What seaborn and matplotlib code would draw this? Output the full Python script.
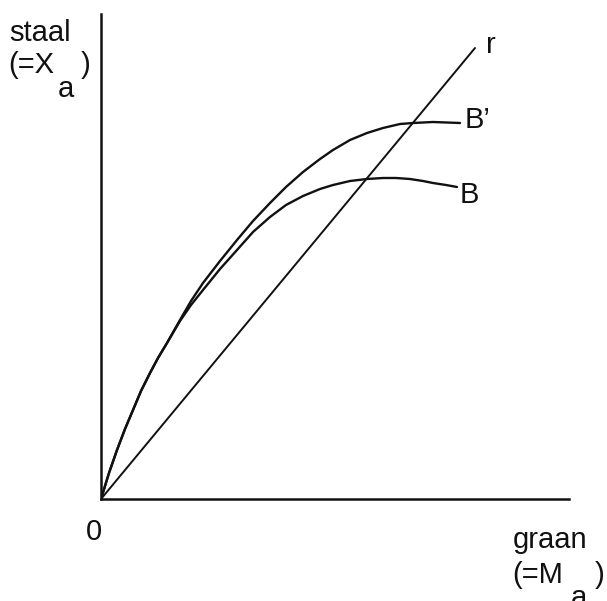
import numpy as np
import pandas as pd
import matplotlib.pyplot as plt
import seaborn as sns

# Values (arbitrary units, origin at 0)
r_x = [0, 374]
r_y = [0, 451]

bprime_x = [0, 8, 16, 24, 32, 40, 49, 57, 66, 79, 90, 102, 119, 136, 152, 169, 185,
            202, 219, 232, 249, 266, 282, 299, 312, 332, 359]
bprime_y = [0, 26, 49, 70, 89, 108, 126, 141, 156, 179, 198, 216, 238, 259, 278, 296, 312,
            327, 340, 349, 359, 366, 371, 375, 376, 377, 376]

b_x = [0, 8, 16, 24, 32, 40, 49, 57, 66, 79, 90, 102, 119, 136, 152, 169, 185,
       202, 219, 232, 249, 266, 282, 295, 309, 322, 332, 345, 356]
b_y = [0, 26, 49, 70, 89, 108, 126, 141, 156, 178, 194, 209, 230, 249, 267, 282, 294,
       303, 310, 314, 318, 320, 321, 321, 320, 318, 316, 314, 312]

curves = pd.concat([
    pd.DataFrame({'graan': r_x, 'staal': r_y, 'lijn': 'r'}),
    pd.DataFrame({'graan': bprime_x, 'staal': bprime_y, 'lijn': "B'"}),
    pd.DataFrame({'graan': b_x, 'staal': b_y, 'lijn': 'B'}),
])

sns.set_style('white')
plt.rcParams['font.family'] = ['Liberation Sans', 'DejaVu Sans']

W, H = 607, 601
fig = plt.figure(figsize=(W / 100, H / 100), dpi=100)
ax = fig.add_axes([101 / W, 102 / H, 468 / W, 485 / H])

sns.lineplot(data=curves, x='graan', y='staal', hue='lijn', units='lijn',
             estimator=None, sort=False, legend=False,
             palette={'r': '#111111', "B'": '#111111', 'B': '#111111'},
             ax=ax)
for line in ax.lines:
    line.set_linewidth(1.7)
    line.set_solid_capstyle('round')
    line.set_solid_joinstyle('round')
ax.lines[0].set_linewidth(1.4)

ax.set_xlim(0, 468)
ax.set_ylim(0, 485)
ax.set_xticks([])
ax.set_yticks([])
ax.set_xlabel('')
ax.set_ylabel('')
for side in ['top', 'right']:
    ax.spines[side].set_visible(False)
for side in ['left', 'bottom']:
    ax.spines[side].set_linewidth(1.8)
    ax.spines[side].set_color('#111111')


def px(x, y):
    return x / W, 1 - y / H


fs = 21
kw = dict(fontsize=fs, color='#111111')
fig.text(*px(9, 41), 'staal', **kw)
fig.text(*px(8, 73), '(=X', **kw)
fig.text(*px(58, 97), 'a', **kw)
fig.text(*px(81, 73), ')', **kw)

fig.text(*px(486, 53), 'r', **kw)
fig.text(*px(465, 128), 'B\u2019', **kw)
fig.text(*px(460, 203), 'B', **kw)
fig.text(*px(86, 540), '0', **kw)

fig.text(*px(513, 548), 'graan', **kw)
fig.text(*px(512, 583), '(=M', **kw)
fig.text(*px(571, 606), 'a', **kw)
fig.text(*px(595, 583), ')', **kw)

fig.savefig('out.png', dpi=100)
